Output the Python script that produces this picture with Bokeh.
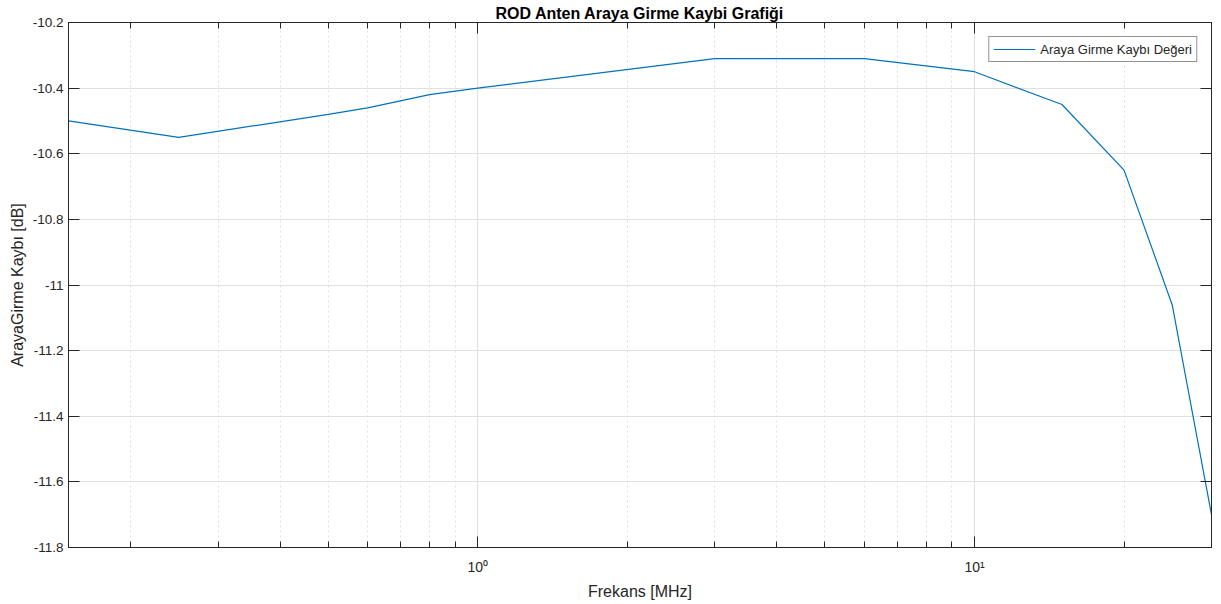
from bokeh.plotting import figure
from bokeh.models import (FixedTicker, LogAxis, LinearAxis, CustomJSTickFormatter,
                          Range1d, Legend, LegendItem)
from bokeh.embed import file_html
from bokeh.resources import INLINE

# ---- data ----
freq_mhz = [0.15, 0.25, 0.5, 0.6, 0.8, 1, 3, 6, 10, 15, 20, 25, 30]
loss_db = [-10.50, -10.55, -10.48, -10.46, -10.42, -10.40, -10.31, -10.31,
           -10.35, -10.45, -10.65, -11.06, -11.70]
x_major_ticks = [1, 10]
x_major_labels = ["10\u2070", "10\u00b9"]
x_minor_ticks = [0.2, 0.3, 0.4, 0.5, 0.6, 0.7, 0.8, 0.9,
                 2, 3, 4, 5, 6, 7, 8, 9, 20, 30]
y_ticks = [-11.8, -11.6, -11.4, -11.2, -11.0, -10.8, -10.6, -10.4, -10.2]
series_name = "Araya Girme Kaybı Değeri"
title_text = "ROD Anten Araya Girme Kaybi Grafiği"
x_label = "Frekans [MHz]"
y_label = "ArayaGirme Kaybı [dB]"

FONT = "Liberation Sans"
AX = "#262626"
GRID = "#e0e0e0"

p = figure(width=1221, height=604, x_axis_type="log",
           x_range=Range1d(0.15, 30), y_range=Range1d(-11.8, -10.2),
           output_backend="svg", toolbar_location=None,
           min_border_left=68, min_border_right=10,
           min_border_top=22, min_border_bottom=57)
p.background_fill_color = "white"
p.border_fill_color = "white"
p.outline_line_color = AX
p.outline_line_width = 1

# title
p.title.text = title_text
p.title.align = "center"
p.title.text_font = FONT
p.title.text_font_size = "16px"
p.title.text_font_style = "bold"
p.title.text_color = "black"
p.title.standoff = 1

r = p.line(freq_mhz, loss_db, line_color="#0072BD", line_width=1.2)

xt = FixedTicker(ticks=x_major_ticks, minor_ticks=x_minor_ticks)
yt = FixedTicker(ticks=y_ticks, minor_ticks=[])
overrides = dict(zip(x_major_ticks, x_major_labels))
yfmt = CustomJSTickFormatter(code="return tick.toFixed(1).replace(/\\.0$/, '');")
blank = CustomJSTickFormatter(code="return '';")

for ax in p.xaxis:
    ax.ticker = xt
    ax.major_label_overrides = overrides
    ax.axis_label = x_label
for ax in p.yaxis:
    ax.ticker = yt
    ax.formatter = yfmt
    ax.axis_label = y_label

def style(ax):
    ax.axis_line_color = AX
    ax.major_tick_line_color = AX
    ax.minor_tick_line_color = AX
    ax.major_tick_in = 11
    ax.major_tick_out = 0
    ax.minor_tick_in = 6
    ax.minor_tick_out = 0
    ax.major_label_text_font = FONT
    ax.major_label_text_font_size = "13.5px"
    ax.major_label_text_color = AX
    ax.axis_label_text_font = FONT
    ax.axis_label_text_font_size = "16px"
    ax.axis_label_text_font_style = "normal"
    ax.axis_label_text_color = AX

for ax in p.xaxis:
    style(ax)
    ax.major_label_text_font_size = "14px"
    ax.major_label_standoff = 11
    ax.axis_label_standoff = 5
for ax in p.yaxis:
    style(ax)
    ax.minor_tick_line_color = None
    ax.major_label_standoff = 5
    ax.axis_label_standoff = 4

top = LogAxis(ticker=xt, formatter=blank)
style(top)
top.major_label_standoff = 0
p.add_layout(top, "above")
right = LinearAxis(ticker=yt, formatter=blank)
style(right)
right.major_label_standoff = 0
right.minor_tick_line_color = None
p.add_layout(right, "right")

# grids
p.xgrid.ticker = xt
p.xgrid.grid_line_color = GRID
p.xgrid.minor_grid_line_color = GRID
p.xgrid.minor_grid_line_dash = "2 3"
p.ygrid.ticker = yt
p.ygrid.grid_line_color = GRID

legend = Legend(items=[LegendItem(label=series_name, renderers=[r])],
                location="top_right")
legend.margin = 14
legend.padding = 4
legend.spacing = 0
legend.glyph_width = 42
legend.glyph_height = 16
legend.label_text_font = FONT
legend.label_text_font_size = "13px"
legend.label_text_color = AX
legend.label_standoff = 5
legend.border_line_color = AX
legend.border_line_width = 1
legend.background_fill_alpha = 1
p.add_layout(legend, "center")

open("out.html", "w").write(file_html(p, INLINE))
